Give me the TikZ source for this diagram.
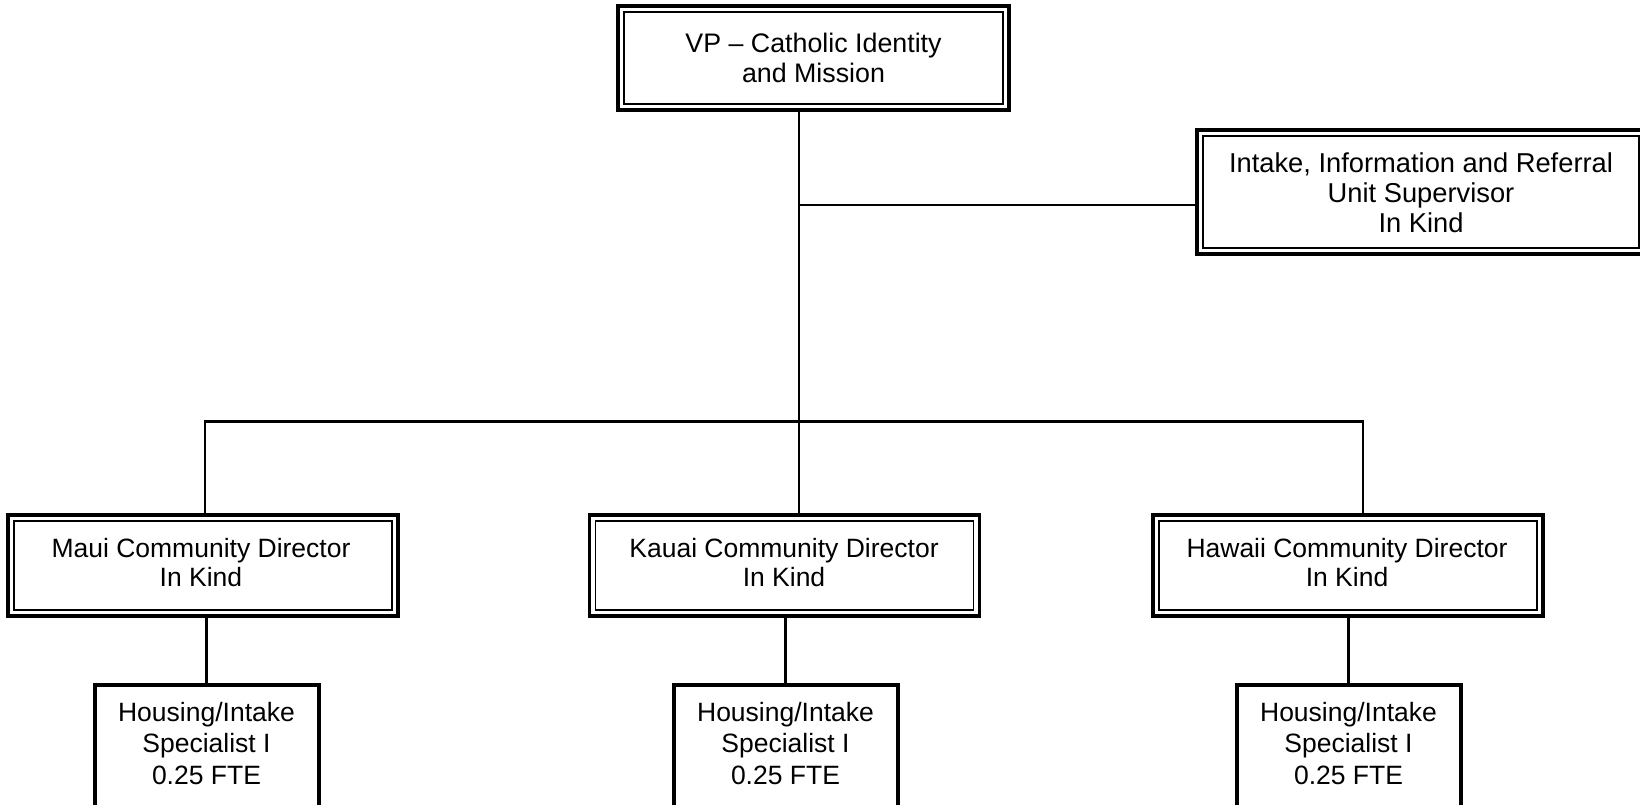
\documentclass[tikz,border=0pt]{standalone}
\usepackage{fontspec}
\setmainfont{Liberation Sans}
\begin{document}
\begin{tikzpicture}[x=1pt,y=-1pt,
  conn/.style={line width=2.2pt},
  dbox/.style={draw, line width=3.2pt, inner sep=0pt, outer sep=0pt,
    path picture={\draw[line width=1.6pt]
      ([shift={(5.9pt,-5.9pt)}]path picture bounding box.north west) rectangle
      ([shift={(-5.9pt,5.9pt)}]path picture bounding box.south east);}},
  sbox/.style={draw, line width=4pt, inner sep=0pt, outer sep=0pt,
    minimum width=224pt, minimum height=140pt},
  cbox/.style={dbox, minimum width=390pt, minimum height=101pt},
  lbl/.style={align=center, inner sep=0pt, font=\fontsize{26.5}{31.3}\selectfont},
  clbl/.style={lbl, font=\fontsize{26.5}{29}\selectfont}]
\useasboundingbox (0,0) rectangle (1640,804);
\clip (0,0) rectangle (1640,804);

% top
\node[dbox, minimum width=391pt, minimum height=104pt] (vp) at (813.5,58) {};
\node[lbl, font=\fontsize{26.8}{30}\selectfont] (vpt) at (813.5,58) {VP – Catholic Identity\\and Mission};

\node[dbox, minimum width=448pt, minimum height=124pt] (ii) at (1421,192) {};
\node[lbl, font=\fontsize{27.3}{30}\selectfont] (iit) at (1421,193) {Intake, Information and Referral\\Unit Supervisor\\In Kind};

% community directors
\node[cbox] (md) at (203,565.5) {};
\node[clbl] (mdt) at (201,562.5) {Maui Community Director\\In Kind};
\node[cbox] (kd) at (784.5,565.5) {};
\node[clbl] (kdt) at (784,562.5) {Kauai Community Director\\In Kind};
\node[cbox] (hd) at (1348,565.5) {};
\node[clbl] (hdt) at (1347,562.5) {Hawaii Community Director\\In Kind};

% specialists
\node[sbox] (mh) at (206.5,754.5) {};
\node[lbl] (mht) at (206.5,743.5) {Housing/Intake\\Specialist I\\0.25 FTE};
\node[sbox] (kh) at (785.5,754.5) {};
\node[lbl] (kht) at (785.5,743.5) {Housing/Intake\\Specialist I\\0.25 FTE};
\node[sbox] (hh) at (1348.5,754.5) {};
\node[lbl] (hht) at (1348.5,743.5) {Housing/Intake\\Specialist I\\0.25 FTE};

% connectors
\coordinate (trunk) at (799,205);
\coordinate (busL) at (205,421.5);
\coordinate (busR) at (1363,421.5);
\draw[conn] (vp.south -| trunk) -- (kd.north -| trunk);
\draw[conn] (trunk) -- (trunk -| ii.west);
\draw[conn] (busL |- md.north) -- (busL) -- (busR) -- (busR |- hd.north);
\draw[conn] (md.south -| mh.north) -- (mh.north);
\draw[conn] (kd.south -| kh.north) -- (kh.north);
\draw[conn] (hd.south -| hh.north) -- (hh.north);
\end{tikzpicture}
\end{document}
